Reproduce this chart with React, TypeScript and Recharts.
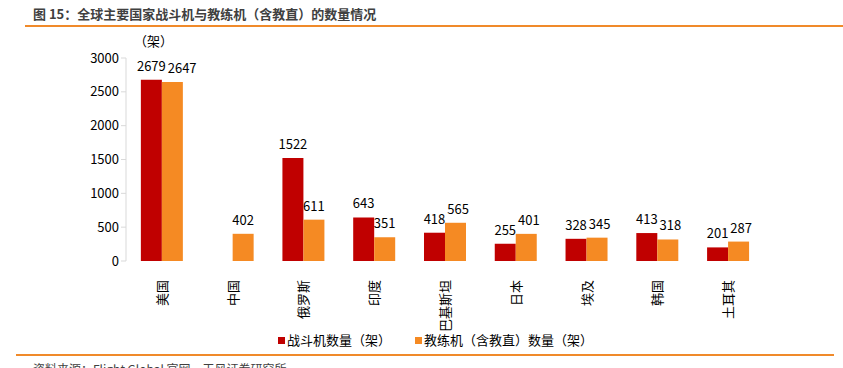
import React from "react";
import { BarChart, Bar, XAxis, YAxis, LabelList } from "recharts";

const categories = ["美国", "中国", "俄罗斯", "印度", "巴基斯坦", "日本", "埃及", "韩国", "土耳其"];
const fighters: (number | null)[] = [2679, null, 1522, 643, 418, 255, 328, 413, 201];
const trainers: number[] = [2647, 402, 611, 351, 565, 401, 345, 318, 287];
const yTicks = [0, 500, 1000, 1500, 2000, 2500, 3000];
const seriesNames = ["战斗机数量（架）", "教练机（含教直）数量（架）"];
const seriesColors = ["#C00000", "#F58A23"];
const title = "图 15：全球主要国家战斗机与教练机（含教直）的数量情况";
const unitLabel = "（架）";
const source = "资料来源：Flight Global 官网，天风证券研究所";

const data = categories.map((c, i) => ({ name: c, idx: i + 0.5, fighter: fighters[i], trainer: trainers[i] }));
const boundaryTicks = categories.map((_, i) => i).concat([categories.length]);

const FONT = '"Noto Sans CJK SC", "Noto Sans", sans-serif';
const LABEL_FS = 13;
const LABEL_OFFSET = 9;
const charW = 7.2;

const RotTick = (props: any) => {
  const { x, y, payload } = props;
  return (
    <text
      x={x}
      y={y + 11}
      transform={`rotate(-90, ${x}, ${y + 11})`}
      textAnchor="end"
      dominantBaseline="central"
      fontSize={13}
      fontFamily={FONT}
      fill="#000"
    >
      {payload.value}
    </text>
  );
};

const NoTick = () => null;

const FighterLabel = (props: any) => {
  const { x, y, width, value } = props;
  if (value == null) return null;
  return (
    <text x={x + width / 2} y={y - LABEL_OFFSET} textAnchor="middle" fontSize={LABEL_FS} fontFamily={FONT} fill="#000">
      {value}
    </text>
  );
};

// trainer label: centered, but nudged right when it would collide with the neighbouring fighter label
const TrainerLabel = (props: any) => {
  const { x, y, width, height, value, index } = props;
  if (value == null) return null;
  let cx = x + width / 2;
  const f = fighters[index];
  if (f != null && value) {
    const k = height / value;
    const bottom = y + height;
    const fTop = bottom - f * k;
    const fcx = x - width / 2;
    const fw = String(f).length * charW;
    const tw = String(value).length * charW;
    const vOverlap = Math.abs(fTop - y) < LABEL_FS + 1;
    const fRight = fcx + fw / 2;
    if (vOverlap && cx - tw / 2 < fRight + 2) {
      cx = fRight + 2 + tw / 2;
    }
  }
  return (
    <text x={cx} y={y - LABEL_OFFSET} textAnchor="middle" fontSize={LABEL_FS} fontFamily={FONT} fill="#000">
      {value}
    </text>
  );
};

export default function App() {
  return (
    <div style={{ position: "fixed", left: 0, top: 0, width: 843, height: 368, background: "#fff", overflow: "hidden", fontFamily: FONT }}>
      <div style={{ position: "absolute", left: 33, top: 5, fontSize: 13, fontWeight: 700, color: "#404040", whiteSpace: "nowrap", lineHeight: "18px" }}>
        {title}
      </div>
      <div style={{ position: "absolute", left: 25, top: 25, width: 818, height: 2, background: "#F08A2A" }} />
      <div style={{ position: "absolute", left: 134, top: 32, fontSize: 13, color: "#000", whiteSpace: "nowrap", lineHeight: "18px" }}>
        {unitLabel}
      </div>
      <div style={{ position: "absolute", left: 0, top: 0 }}>
        <BarChart
          width={843}
          height={368}
          data={data}
          margin={{ top: 58, right: 80, bottom: 47, left: 0 }}
          barCategoryGap="21%"
          barGap={0}
        >
          <XAxis
            xAxisId="grid"
            type="number"
            dataKey="idx"
            domain={[0, categories.length]}
            ticks={boundaryTicks}
            interval={0}
            height={0}
            axisLine={{ stroke: "#D9D9D9", strokeWidth: 2 }}
            tickLine={{ stroke: "#D9D9D9" }}
            tickSize={6}
            tick={NoTick}
            allowDataOverflow
          />
          <XAxis
            dataKey="name"
            height={60}
            axisLine={false}
            tickLine={false}
            interval={0}
            tick={<RotTick />}
          />
          <YAxis
            width={126}
            domain={[0, 3000]}
            ticks={yTicks}
            interval={0}
            axisLine={{ stroke: "#D9D9D9" }}
            tickLine={{ stroke: "#D9D9D9" }}
            tickSize={5}
            tick={{ fontSize: 13, fill: "#000", fontFamily: FONT }}
          />
          <Bar dataKey="fighter" fill={seriesColors[0]} isAnimationActive={false}>
            <LabelList dataKey="fighter" content={<FighterLabel />} />
          </Bar>
          <Bar dataKey="trainer" fill={seriesColors[1]} isAnimationActive={false}>
            <LabelList dataKey="trainer" content={<TrainerLabel />} />
          </Bar>
        </BarChart>
      </div>
      <div style={{ position: "absolute", left: 278, top: 331, display: "flex", alignItems: "center", fontSize: 13, color: "#000", whiteSpace: "nowrap", lineHeight: "18px" }}>
        {seriesNames.map((n, i) => (
          <div key={n} style={{ display: "flex", alignItems: "center", marginRight: i === 0 ? 24 : 0 }}>
            <span style={{ display: "inline-block", width: 7, height: 7, background: seriesColors[i], marginRight: 2 }} />
            <span>{n}</span>
          </div>
        ))}
      </div>
      <div style={{ position: "absolute", left: 16, top: 354, width: 818, height: 2, background: "#F08A2A" }} />
      <div style={{ position: "absolute", left: 33, top: 361, fontSize: 12, color: "#404040", whiteSpace: "nowrap", lineHeight: "16px" }}>
        {source}
      </div>
    </div>
  );
}
